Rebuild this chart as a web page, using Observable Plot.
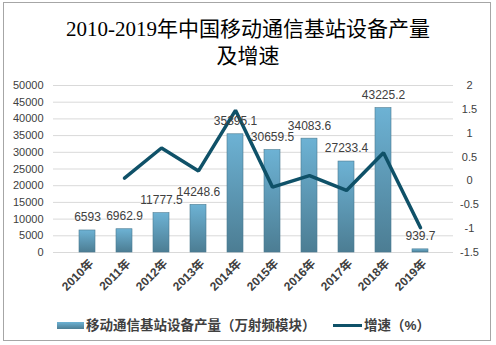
<!DOCTYPE html>
<html>
<head>
<meta charset="utf-8">
<script src="https://cdn.jsdelivr.net/npm/d3@7"></script>
<script src="https://cdn.jsdelivr.net/npm/@observablehq/plot@0.6"></script>
<style>
  html, body { margin: 0; padding: 0; background: #fff; }
  #wrap { position: relative; width: 496px; height: 345px; overflow: hidden; }
  #frame { position: absolute; left: 3px; top: 2px; width: 488px; height: 339px; border: 1px solid #a6a6a6; box-sizing: border-box; }
  #title { position: absolute; left: 0; top: 16px; width: 496px; text-align: center;
    font-family: "Liberation Serif", "Noto Sans CJK SC", serif; font-size: 21px; line-height: 27px; color: #000; }
  #chart { position: absolute; left: 0; top: 70px; }
  #legend { position: absolute; left: 0; top: 316px; width: 496px; height: 20px;
    font-family: "Liberation Sans", "Noto Sans CJK SC", sans-serif; font-size: 13.5px; font-weight: bold; color: #404040; }
  .item { position: absolute; top: 0; line-height: 20px; white-space: nowrap; }
  .sw { display: inline-block; vertical-align: middle; }
</style>
</head>
<body>
<div id="wrap">
  <div id="frame"></div>
  <div id="title">2010-2019年中国移动通信基站设备产量<br>及增速</div>
  <div id="chart"></div>
  <div id="legend">
    <div class="item" style="left:57px"><span class="sw" style="width:27px;height:7px;background:linear-gradient(#6db2d4,#4c7d93);margin-right:2px;margin-top:-2px"></span>移动通信基站设备产量（万射频模块）</div>
    <div class="item" style="left:333px"><span class="sw" style="width:29px;height:3px;background:#0f5168;margin-right:2px;margin-top:-2px"></span>增速（%）</div>
  </div>
</div>
<script>
const years = ["2010年","2011年","2012年","2013年","2014年","2015年","2016年","2017年","2018年","2019年"];
const output = [6593, 6962.9, 11777.5, 14248.6, 35395.1, 30659.5, 34083.6, 27233.4, 43225.2, 939.7];
const outputLabels = ["6593","6962.9","11777.5","14248.6","35395.1","30659.5","34083.6","27233.4","43225.2","939.7"];
const growth = [null, 0.06, 0.69, 0.21, 1.48, -0.13, 0.11, -0.20, 0.59, -0.98];
const leftTicks = [0, 5000, 10000, 15000, 20000, 25000, 30000, 35000, 40000, 45000, 50000];
const rightTicks = [-1.5, -1, -0.5, 0, 0.5, 1, 1.5, 2];
const rightTickLabels = ["-1.5", "-1", "-0.5", "0", "0.5", "1", "1.5", "2"];

const toLeft = v => (v + 1.5) / 3.5 * 50000;
const data = years.map((year, i) => ({year, output: output[i], label: outputLabels[i], growth: growth[i]}));
const lineData = data.filter(d => d.growth !== null);

const plot = Plot.plot({
  width: 496, height: 240,
  marginTop: 15, marginBottom: 58, marginLeft: 53, marginRight: 43,
  style: {fontFamily: '"Liberation Sans", "Noto Sans CJK SC", sans-serif', background: "transparent"},
  x: {domain: years, padding: 0.57, axis: null, label: null},
  y: {domain: [0, 50000], axis: null, label: null},
  marks: [
    Plot.gridY(leftTicks, {stroke: "#d9d9d9", strokeOpacity: 1}),
    Plot.barY(data, {x: "year", y: "output", fill: "url(#barGrad)", stroke: "#4a7a90", strokeWidth: 0.6}),
    Plot.line(lineData, {x: "year", y: d => toLeft(d.growth), stroke: "#0f5168", strokeWidth: 3.5, strokeLinejoin: "miter"}),
    Plot.text(data, {x: "year", y: "output", text: "label", dy: -13, fontSize: 12, fill: "#404040"}),
    Plot.axisY(leftTicks, {anchor: "left", label: null, tickSize: 0, tickPadding: 10, tickFormat: d3.format("d"), fontSize: 11, fill: "#404040"}),
    Plot.axisY(rightTicks.map(toLeft), {anchor: "right", label: null, tickSize: 0, tickPadding: 16, textAnchor: "middle",
      tickFormat: (d, i) => rightTickLabels[i], fontSize: 11, fill: "#404040"}),
    Plot.axisX({label: null, tickRotate: -45, tickSize: 0, tickPadding: 9, dx: 4, fontSize: 12, fontWeight: "bold", fill: "#404040"})
  ]
});
plot.insertAdjacentHTML("afterbegin",
  '<defs><linearGradient id="barGrad" x1="0" y1="0" x2="0" y2="1">' +
  '<stop offset="0" stop-color="#6db2d4"/><stop offset="1" stop-color="#4c7d93"/></linearGradient></defs>');
document.getElementById("chart").appendChild(plot);
</script>
</body>
</html>
